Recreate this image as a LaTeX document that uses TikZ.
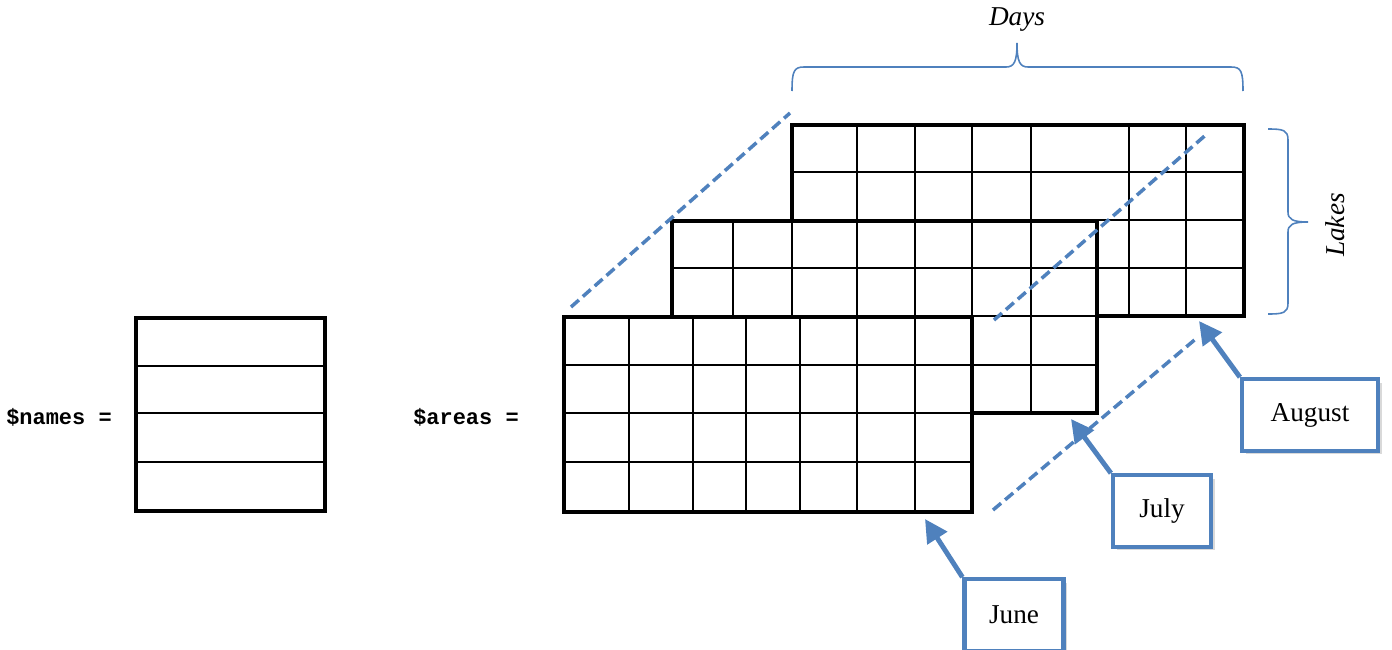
\documentclass[tikz,border=0pt]{standalone}
\usepackage{fontspec}
\setmainfont{Liberation Serif}
\setmonofont{Liberation Mono}
\usetikzlibrary{arrows.meta, shadows}
\definecolor{officeblue}{HTML}{4F81BD}

\begin{document}
\begin{tikzpicture}[x=0.02cm, y=-0.02cm,
  frame/.style = {line width=2.2pt},
  cell/.style = {line width=1pt},
  guide/.style = {officeblue, line width=2pt, dash pattern=on 6pt off 3pt},
  curly/.style = {officeblue, line width=0.9pt},
  month/.style = {draw=officeblue, line width=2.4pt, fill=white, minimum height=1.43cm,
    font=\fontsize{15.5}{18}\selectfont,
    drop shadow={shadow xshift=2pt, shadow yshift=-2pt, opacity=0.3}},
  pointer/.style = {officeblue, line width=2.8pt, -{Triangle[length=13pt, width=13pt]}},
  code/.style = {font=\ttfamily\bfseries\fontsize{12.5}{14}\selectfont}]
  \useasboundingbox (0,0) rectangle (1392,649);

  % $names
  \node[code] (nameslabel) at (59,417) {\$names =};
  \fill[white] (136,318) rectangle (325,511);
  \foreach \y in {366,413,462} \draw[cell] (136,\y) -- (325,\y);
  \draw[frame] (136,318) rectangle (325,511);

  % $areas
  \node[code] (areaslabel) at (466,417) {\$areas =};

  % august (back)
  \fill[white] (792,125) rectangle (1244,316);
  \foreach \x in {857,915,972,1031,1129,1186} \draw[cell] (\x,125) -- (\x,316);
  \foreach \y in {172,220,268} \draw[cell] (792,\y) -- (1244,\y);
  \draw[frame] (792,125) rectangle (1244,316);

  % july (middle)
  \fill[white] (672,221) rectangle (1097,413);
  \foreach \x in {733,792,857,915,972,1031} \draw[cell] (\x,221) -- (\x,413);
  \foreach \y in {268,316,365} \draw[cell] (672,\y) -- (1097,\y);
  \draw[frame] (672,221) rectangle (1097,413);

  % june (front)
  \fill[white] (564,317) rectangle (972,512);
  \foreach \x in {629,693,746,800,857,915} \draw[cell] (\x,317) -- (\x,512);
  \foreach \y in {365,413,462} \draw[cell] (564,\y) -- (972,\y);
  \draw[frame] (564,317) rectangle (972,512);

  % depth guides
  \draw[guide] (571,307) -- (790,113);
  \draw[guide] (994,320) -- (1208,133);
  \draw[guide] (993,510) -- (1198,337);

  % braces
  \draw[curly] (792,91) .. controls (792,71) and (794,67) .. (804,67) -- (1006,67)
    .. controls (1014,67) and (1017,62) .. (1017,43)
    .. controls (1017,62) and (1020,67) .. (1028,67) -- (1231,67)
    .. controls (1241,67) and (1243,71) .. (1243,91);
  \node[font=\itshape\fontsize{15.5}{18}\selectfont] (days) at (1017,20) {Days};
  \draw[curly] (1268,129) .. controls (1283,129) and (1288,130) .. (1288,140) -- (1288,212)
    .. controls (1288,219) and (1292,222) .. (1308,222)
    .. controls (1292,222) and (1288,225) .. (1288,232) -- (1288,303)
    .. controls (1288,313) and (1283,314) .. (1268,314);
  \node[rotate=90, font=\itshape\fontsize{15.5}{18}\selectfont] (lakes) at (1335,225) {Lakes};

  % month labels
  \node[month, minimum width=2.72cm] (august) at (1310,415) {August};
  \node[month, minimum width=1.96cm] (july) at (1162,511) {July};
  \node[month, minimum width=1.98cm] (june) at (1014,615) {June};
  \coordinate (augusttip) at (1199,321);
  \coordinate (julytip) at (1071,419);
  \coordinate (junetip) at (925,519);
  \draw[pointer] (august.north west) -- (augusttip);
  \draw[pointer] (july.north west) -- (julytip);
  \draw[pointer] (june.north west) -- (junetip);
\end{tikzpicture}
\end{document}
